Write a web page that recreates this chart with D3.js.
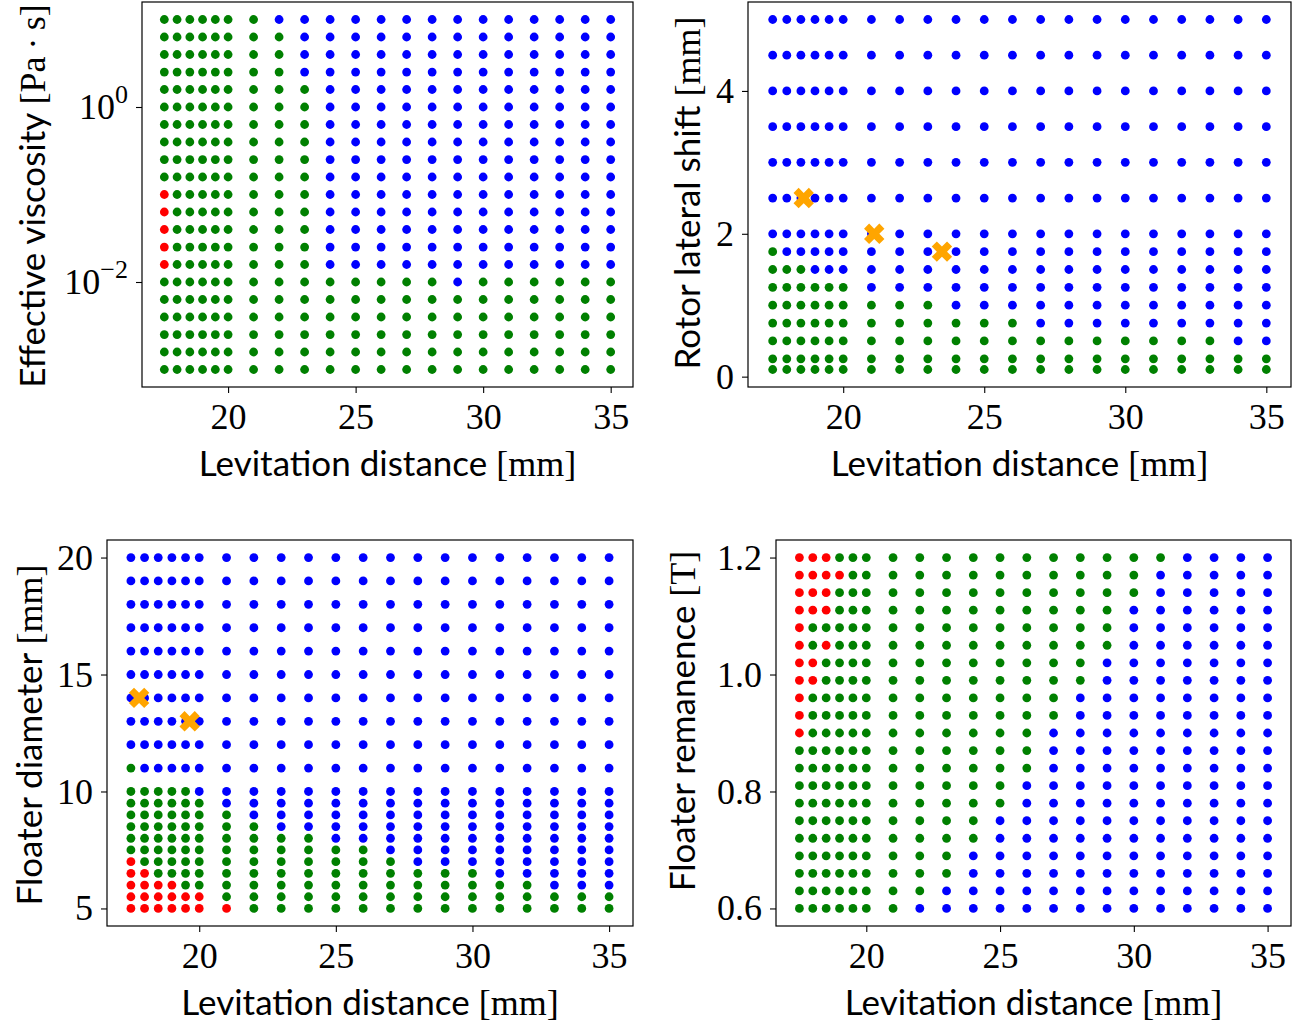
<!DOCTYPE html>
<html>
<head>
<meta charset="utf-8">
<script src="https://cdn.jsdelivr.net/npm/d3@7"></script>
<style>
  body { margin: 0; background: #fff; }
  svg { display: block; }
  .tick text { font-family: "Liberation Serif", serif; font-size: 36px; fill: #000; }
  .lab { fill: #000; }
  .sans { font-family: Lato, sans-serif; font-size: 35px; }
  .serif { font-family: "Liberation Serif", serif; font-size: 36px; }
</style>
</head>
<body>
<svg id="fig" width="1301" height="1024"></svg>
<script>
// ---- sweep grid ----------------------------------------------------------
const levitationDistance = [17.5, 18, 18.5, 19, 19.5, 20, 21, 22, 23, 24, 25, 26, 27, 28, 29, 30, 31, 32, 33, 34, 35];

const viscosity = [10, 6.31, 3.98, 2.51, 1.585, 1, 0.631, 0.398, 0.251, 0.1585, 0.1,
                   0.0631, 0.0398, 0.0251, 0.01585, 0.01, 0.00631, 0.00398, 0.00251, 0.001585, 0.001];
const lateralShift = [5, 4.5, 4, 3.5, 3, 2.5, 2, 1.75, 1.5, 1.25, 1, 0.75, 0.5, 0.25, 0.1];
const floaterDiameter = [20, 19, 18, 17, 16, 15, 14, 13, 12, 11, 10, 9.5, 9, 8.5, 8, 7.5, 7, 6.5, 6, 5.5, 5];
const floaterRemanence = [1.2, 1.17, 1.14, 1.11, 1.08, 1.05, 1.02, 0.99, 0.96, 0.93, 0.9,
                          0.87, 0.84, 0.81, 0.78, 0.75, 0.72, 0.69, 0.66, 0.63, 0.6];

// ---- simulated outcome per cell (rows follow the y arrays, columns follow levitationDistance)
// B = blue, G = green, R = red
const viscosityOutcome = [
  "GGGGGGGBBBBBBBBBBBBBB",
  "GGGGGGGGBBBBBBBBBBBBB",
  "GGGGGGGGBBBBBBBBBBBBB",
  "GGGGGGGGBBBBBBBBBBBBB",
  "GGGGGGGGGBBBBBBBBBBBB",
  "GGGGGGGGGBBBBBBBBBBBB",
  "GGGGGGGGGBBBBBBBBBBBB",
  "GGGGGGGGGBBBBBBBBBBBB",
  "GGGGGGGGGBBBBBBBBBBBB",
  "GGGGGGGGGBBBBBBBBBBBB",
  "RGGGGGGGGBBBBBBBBBBBB",
  "RGGGGGGGGBBBBBBBBBBBB",
  "RGGGGGGGGBBBBBBBBBBBB",
  "RGGGGGGGGBBBBBBBBBBBB",
  "RGGGGGGGGBBBBBBBBBBBB",
  "GGGGGGGGGGGGGGBGGGGGG",
  "GGGGGGGGGGGGGGGGGGGGG",
  "GGGGGGGGGGGGGGGGGGGGG",
  "GGGGGGGGGGGGGGGGGGGGG",
  "GGGGGGGGGGGGGGGGGGGGG",
  "GGGGGGGGGGGGGGGGGGGGG"
];
const shiftOutcome = [
  "BBBBBBBBBBBBBBBBBBBBB",
  "BBBBBBBBBBBBBBBBBBBBB",
  "BBBBBBBBBBBBBBBBBBBBB",
  "BBBBBBBBBBBBBBBBBBBBB",
  "BBBBBBBBBBBBBBBBBBBBB",
  "BBBBBBBBBBBBBBBBBBBBB",
  "BBBBBBBBBBBBBBBBBBBBB",
  "GBBBBBBBBBBBBBBBBBBBB",
  "GGGBBBBBBBBBBBBBBBBBB",
  "GGGGGGBBBBBBBBBBBBBBB",
  "GGGGGGGGGBBBBBBBBBBBB",
  "GGGGGGGGGGGGBBBBBBBBB",
  "GGGGGGGGGGGGGGGGGGGBB",
  "GGGGGGGGGGGGGGGGGGGGG",
  "GGGGGGGGGGGGGGGGGGGGG"
];
const diameterOutcome = [
  "BBBBBBBBBBBBBBBBBBBBB",
  "BBBBBBBBBBBBBBBBBBBBB",
  "BBBBBBBBBBBBBBBBBBBBB",
  "BBBBBBBBBBBBBBBBBBBBB",
  "BBBBBBBBBBBBBBBBBBBBB",
  "BBBBBBBBBBBBBBBBBBBBB",
  "BBBBBBBBBBBBBBBBBBBBB",
  "BBBBBBBBBBBBBBBBBBBBB",
  "BBBBBBBBBBBBBBBBBBBBB",
  "GBBBBBBBBBBBBBBBBBBBB",
  "GGGGGBBBBBBBBBBBBBBBB",
  "GGGGGGBBBBBBBBBBBBBBB",
  "GGGGGGGBBBBBBBBBBBBBB",
  "GGGGGGGGBBBBBBBBBBBBB",
  "GGGGGGGGGGBBBBBBBBBBB",
  "GGGGGGGGGGGGBBBBBBBBB",
  "RGGGGGGGGGGGGBBBBBBBB",
  "RRGGGGGGGGGGGGGGBBBBB",
  "RRRRGGGGGGGGGGGGGGBBB",
  "RRRRRRGGGGGGGGGGGGGGG",
  "RRRRRRRGGGGGGGGGGGGGG"
];
const remanenceOutcome = [
  "RRRGGGGGGGGGGGGGGBBBB",
  "RRRRGGGGGGGGGGGGBBBBB",
  "RRRGGGGGGGGGGGGGBBBBB",
  "RRRGGGGGGGGGGGGBBBBBB",
  "RGGGGGGGGGGGGGGBBBBBB",
  "RGRGGGGGGGGGGGGBBBBBB",
  "RRGGGGGGGGGGGGBBBBBBB",
  "RRGGGGGGGGGGGGBBBBBBB",
  "RGGGGGGGGGGGGBBBBBBBB",
  "RGGGGGGGGGGGGBBBBBBBB",
  "RGGGGGGGGGGGBBBBBBBBB",
  "GGGGGGGGGGGGBBBBBBBBB",
  "GGGGGGGGGGGGBBBBBBBBB",
  "GGGGGGGGGGGBBBBBBBBBB",
  "GGGGGGGGGGGBBBBBBBBBB",
  "GGGGGGGGGGBBBBBBBBBBB",
  "GGGGGGGGGGBBBBBBBBBBB",
  "GGGGGGGGGBBBBBBBBBBBB",
  "GGGGGGGGGBBBBBBBBBBBB",
  "GGGGGGGGBBBBBBBBBBBBB",
  "GGGGGGGBBBBBBBBBBBBBB"
];

// ---- highlighted operating points (orange crosses)
const shiftMarkDistance = [18.6, 21.1, 23.5];
const shiftMarkValue = [2.5, 2.0, 1.75];
const diameterMarkDistance = [17.8, 19.65];
const diameterMarkValue = [14, 13];

// ---- ticks
const distanceTicks = [20, 25, 30, 35];
const viscosityTicks = [0.01, 1];
const viscosityTickExp = ["\u22122", "0"];
const shiftTicks = [0, 2, 4];
const diameterTicks = [5, 10, 15, 20];
const remanenceTicks = [0.6, 0.8, 1.0, 1.2];
const remanenceTickLabels = ["0.6", "0.8", "1.0", "1.2"];

const outcomeColour = { B: "#0000ff", G: "#008000", R: "#ff0000" };
const markColour = "#ffa500";

const svg = d3.select("#fig");

function padded(lo, hi) {
  const p = (hi - lo) * 0.05;
  return [lo - p, hi + p];
}

function drawPanel(cfg) {
  const { box, yValues, outcome, log, yTicks, yTickFormat, label, labelPos, marks } = cfg;
  const g = svg.append("g");

  const xd = d3.extent(levitationDistance);
  const x = d3.scaleLinear().domain(padded(xd[0], xd[1])).range([box.x0, box.x1]);

  let y;
  if (log) {
    const le = d3.extent(yValues).map(Math.log10);
    const dom = padded(le[0], le[1]).map(v => Math.pow(10, v));
    y = d3.scaleLog().domain(dom).range([box.y1, box.y0]);
  } else {
    const yd = d3.extent(yValues);
    y = d3.scaleLinear().domain(padded(yd[0], yd[1])).range([box.y1, box.y0]);
  }

  const cells = [];
  yValues.forEach((v, i) => {
    levitationDistance.forEach((d, j) => cells.push({ d, v, c: outcome[i][j] }));
  });

  g.append("g").selectAll("circle").data(cells).join("circle")
    .attr("cx", p => x(p.d))
    .attr("cy", p => y(p.v))
    .attr("r", 4.4)
    .attr("fill", p => outcomeColour[p.c]);

  if (marks) {
    const sym = d3.symbol().type(d3.symbolCross).size(260);
    g.append("g").selectAll("path").data(marks.d.map((d, i) => ({ d, v: marks.v[i] }))).join("path")
      .attr("d", sym)
      .attr("transform", p => `translate(${x(p.d)},${y(p.v)}) rotate(45)`)
      .attr("fill", markColour);
  }

  // frame
  g.append("rect")
    .attr("x", box.x0).attr("y", box.y0)
    .attr("width", box.x1 - box.x0).attr("height", box.y1 - box.y0)
    .attr("fill", "none").attr("stroke", "#000").attr("stroke-width", 1.2);

  // x axis
  g.append("g").attr("transform", `translate(0,${box.y1})`)
    .call(d3.axisBottom(x).tickValues(distanceTicks).tickSize(6).tickPadding(10).tickFormat(d3.format("d")))
    .call(a => a.select(".domain").remove())
    .call(a => a.selectAll(".tick line").attr("stroke", "#000").attr("stroke-width", 1.1));

  // y axis
  const ya = g.append("g").attr("transform", `translate(${box.x0},0)`)
    .call(d3.axisLeft(y).tickValues(yTicks).tickSize(6).tickPadding(8).tickFormat((d, i) => yTickFormat(d, i)))
    .call(a => a.select(".domain").remove())
    .call(a => a.selectAll(".tick line").attr("stroke", "#000").attr("stroke-width", 1.1));

  if (log) {
    ya.selectAll(".tick text").each(function (d, i) {
      const t = d3.select(this);
      t.text(null);
      t.append("tspan").text("10");
      t.append("tspan").attr("dy", "-16").style("font-size", "26px").text(viscosityTickExp[i]);
    });
  }

  // axis titles
  const xl = g.append("text").attr("class", "lab")
    .attr("x", (box.x0 + box.x1) / 2).attr("y", box.y1 + 89)
    .attr("text-anchor", "middle");
  xl.append("tspan").attr("class", "sans").text("Levitation distance ");
  xl.append("tspan").attr("class", "serif").text("[mm]");

  const yl = g.append("text").attr("class", "lab")
    .attr("transform", `translate(${labelPos[0]},${labelPos[1]}) rotate(-90)`)
    .attr("text-anchor", "middle");
  yl.append("tspan").attr("class", "sans").text(label[0] + " ");
  yl.append("tspan").attr("class", "serif").text(label[1]);
}

drawPanel({
  box: { x0: 142, x1: 633, y0: 2, y1: 387 },
  yValues: viscosity, outcome: viscosityOutcome, log: true,
  yTicks: viscosityTicks, yTickFormat: () => "",
  label: ["Effective viscosity", "[Pa\u2009\u00b7\u2009s]"], labelPos: [45, 196]
});

drawPanel({
  box: { x0: 748, x1: 1291, y0: 2, y1: 387 },
  yValues: lateralShift, outcome: shiftOutcome, log: false,
  yTicks: shiftTicks, yTickFormat: d => String(d),
  label: ["Rotor lateral shift", "[mm]"], labelPos: [700, 193],
  marks: { d: shiftMarkDistance, v: shiftMarkValue }
});

drawPanel({
  box: { x0: 107, x1: 633, y0: 540, y1: 926 },
  yValues: floaterDiameter, outcome: diameterOutcome, log: false,
  yTicks: diameterTicks, yTickFormat: d => String(d),
  label: ["Floater diameter", "[mm]"], labelPos: [42, 735],
  marks: { d: diameterMarkDistance, v: diameterMarkValue }
});

drawPanel({
  box: { x0: 776, x1: 1291, y0: 540, y1: 926 },
  yValues: floaterRemanence, outcome: remanenceOutcome, log: false,
  yTicks: remanenceTicks, yTickFormat: (d, i) => remanenceTickLabels[i],
  label: ["Floater remanence", "[T]"], labelPos: [695, 721]
});
</script>
</body>
</html>
